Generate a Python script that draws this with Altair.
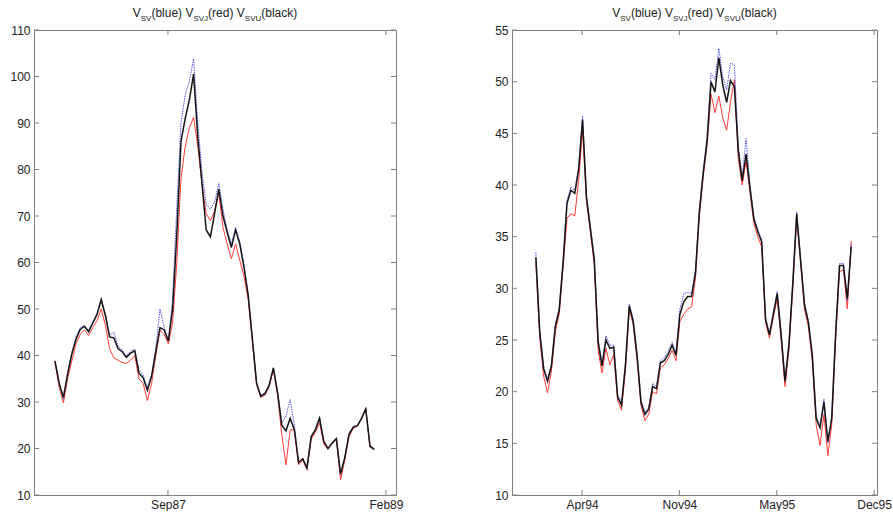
import altair as alt
import pandas as pd

# ---------------- data ----------------
left_start = "1986-12-06"
left_step = "10D"
left_black = [38.8, 34.0, 31.0, 36.0, 40.3, 43.5, 45.6, 46.3, 45.1, 47.0,
              48.8, 52.0, 48.6, 44.0, 43.8, 41.5, 40.8, 39.6, 40.5, 41.0,
              36.2, 35.2, 32.5, 35.5, 40.8, 46.0, 45.5, 43.1, 50.0, 66.0,
              86.0, 91.0, 95.0, 100.5, 87.0, 77.0, 67.0, 65.5, 70.5, 75.8,
              70.0, 66.5, 63.2, 67.0, 64.0, 59.0, 53.0, 43.5, 34.0, 31.2,
              31.8, 33.6, 37.3, 32.0, 25.0, 23.8, 26.5, 24.0, 17.0, 17.8,
              15.8, 22.5, 24.0, 26.5, 21.5, 20.0, 21.2, 22.1, 14.5, 18.0,
              23.0, 24.6, 24.9, 26.5, 28.5, 20.5, 19.8]
left_blue = [38.9, 34.2, 30.6, 36.2, 40.6, 44.0, 46.0, 46.4, 45.4, 47.3,
             49.0, 52.2, 48.9, 44.3, 45.0, 42.0, 41.2, 39.9, 41.0, 41.3,
             36.8, 35.8, 33.0, 36.0, 41.5, 50.0, 46.0, 43.3, 52.0, 72.0,
             90.0, 96.0, 99.0, 103.8, 90.0, 79.5, 72.5, 71.5, 73.0, 77.0,
             71.5, 67.0, 64.0, 67.5, 64.5, 59.5, 53.0, 43.8, 34.3, 31.5,
             32.0, 33.8, 37.5, 32.2, 25.5, 27.0, 30.5, 25.0, 17.0, 17.8,
             15.8, 22.6, 24.3, 26.8, 21.6, 20.0, 21.3, 22.2, 14.6, 18.2,
             23.2, 24.7, 25.0, 26.6, 28.7, 20.6, 20.0]
left_red = [38.5, 33.2, 29.8, 35.0, 38.8, 42.5, 44.5, 45.5, 44.3, 46.0,
            47.5, 50.0, 46.5, 41.5, 39.5, 39.0, 38.5, 38.3, 39.0, 40.0,
            35.0, 34.0, 30.3, 34.0, 40.0, 45.5, 44.5, 42.5, 47.0, 60.0,
            78.0, 85.0, 89.0, 91.2, 85.0, 77.0, 70.5, 69.0, 71.0, 75.0,
            67.5, 64.0, 60.8, 64.0, 60.5, 57.0, 52.0, 43.0, 33.8, 31.0,
            31.5, 33.3, 37.0, 31.5, 23.0, 16.5, 24.0, 24.0, 16.5, 17.5,
            15.5, 22.0, 23.5, 25.5, 21.0, 19.8, 21.0, 22.0, 13.3, 17.5,
            22.5, 24.3, 24.8, 26.3, 28.5, 20.3, 19.8]

right_start = "1994-01-15"
right_step = "8D"
right_black = [33.0, 25.8, 22.2, 21.0, 22.5, 26.3, 27.9, 32.5, 38.2, 39.5,
               39.2, 41.5, 46.3, 38.8, 35.8, 32.8, 24.8, 22.5, 25.0, 24.2,
               24.3, 19.5, 18.7, 22.5, 28.3, 26.8, 23.5, 19.0, 17.8, 18.3,
               20.5, 20.3, 22.8, 23.0, 23.6, 24.5, 23.5, 27.5, 28.7, 29.2,
               29.2, 31.5, 37.4, 41.2, 44.3, 50.0, 49.0, 52.3, 49.7, 48.0,
               50.1, 49.5, 43.3, 40.4, 43.0, 39.7, 36.7, 35.5, 34.5, 27.0,
               25.5, 27.5, 29.5, 25.5, 21.0, 24.5, 30.5, 37.2, 32.7, 28.4,
               26.7, 23.5, 17.4, 16.5, 19.0, 15.2, 17.4, 25.6, 32.2, 32.2,
               29.0, 34.0]
right_blue = [33.5, 26.0, 22.4, 21.2, 22.7, 26.5, 28.1, 32.7, 38.5, 39.8,
              39.5, 41.8, 46.7, 39.0, 36.0, 33.0, 25.0, 22.8, 25.4, 24.5,
              24.5, 19.8, 18.9, 22.7, 28.5, 27.0, 23.7, 19.2, 18.0, 18.5,
              20.8, 20.5, 23.0, 23.3, 23.9, 24.8, 23.8, 28.0, 29.5, 29.6,
              29.5, 31.8, 37.6, 41.4, 44.8, 50.8, 50.2, 53.2, 50.5, 49.2,
              51.8, 51.6, 43.8, 40.8, 44.5, 40.0, 36.9, 35.7, 34.7, 27.2,
              25.6, 27.7, 29.7, 25.7, 21.2, 24.7, 30.7, 37.4, 32.9, 28.6,
              26.9, 23.8, 17.6, 16.7, 19.3, 15.0, 17.6, 25.8, 32.4, 32.4,
              28.8, 34.3]
right_red = [32.5, 25.2, 21.5, 19.9, 22.0, 25.8, 27.5, 32.0, 36.8, 37.2,
             37.0, 40.5, 45.3, 38.4, 35.5, 32.3, 24.0, 21.8, 24.2, 22.6,
             23.6, 19.2, 18.2, 22.0, 28.0, 26.5, 23.0, 18.7, 17.2, 17.8,
             20.0, 19.8, 22.3, 22.6, 23.2, 24.0, 23.0, 26.8, 27.5, 28.0,
             28.2, 31.0, 37.0, 40.8, 44.0, 48.8, 47.0, 48.6, 46.5, 45.3,
             48.0, 50.2, 42.5, 40.0, 42.3, 39.3, 36.3, 35.0, 34.0, 26.7,
             25.2, 27.2, 29.0, 25.0, 20.5, 24.0, 30.0, 36.8, 32.5, 28.0,
             26.3, 23.0, 16.8, 14.8, 17.8, 13.8, 16.8, 25.0, 31.6, 31.8,
             28.0, 34.6]

left_xdomain = ["1986-10-17", "1989-02-25"]
left_xticks = ["1987-09-01", "1989-02-01"]
left_yticks = [10, 20, 30, 40, 50, 60, 70, 80, 90, 100, 110]

right_xdomain = ["1993-11-27", "1995-12-17"]
right_xticks = ["1994-04-20", "1994-11-06", "1995-05-25", "1995-12-11"]
right_yticks = [10, 15, 20, 25, 30, 35, 40, 45, 50, 55]

title_parts = [("V", False), ("SV", True), ("(blue) ", False),
               ("V", False), ("SVJ", True), ("(red) ", False),
               ("V", False), ("SVU", True), ("(black)", False)]

# ---------------- styling ----------------
FONT = "Liberation Sans"
TXT = "#222222"
FRAME = "#808080"
STYLES = [("red", "#ff3b3b", 1.0, None),
          ("blue", "#4040d8", 0.9, [1.5, 1]),
          ("black", "#151515", 1.5, None)]

# Arial / Liberation Sans advance widths (per 1000 em)
AW = {"V": 667, "S": 667, "J": 500, "U": 722, "(": 333, ")": 333, "b": 556,
      "l": 222, "u": 556, "e": 556, " ": 278, "r": 333, "d": 556, "a": 556,
      "c": 500, "k": 500}
MAIN_FS, SUB_FS = 12, 8


def dt(s):
    t = pd.Timestamp(s)
    return alt.DateTime(year=t.year, month=t.month, date=t.day, utc=True)


def panel(start, step, black, blue, red, xdomain, xticks, ydomain, yticks, W, H):
    dates = pd.date_range(start, periods=len(black), freq=step).strftime("%Y-%m-%d")
    vals = {"black": black, "blue": blue, "red": red}

    xscale = alt.Scale(domain=[dt(xdomain[0]), dt(xdomain[1])])
    yscale = alt.Scale(domain=ydomain, nice=False, zero=False)
    xaxis = alt.Axis(values=[dt(v) for v in xticks], format="%b%y", title=None,
                     ticks=False, domain=False, grid=False, labelFont=FONT,
                     labelFontSize=12, labelColor=TXT, labelPadding=4,
                     labelOverlap=False, labelFlush=False)
    yaxis = alt.Axis(values=yticks, title=None, ticks=False, domain=False,
                     grid=False, labelFont=FONT, labelFontSize=12,
                     labelColor=TXT, labelPadding=4)

    X = lambda f: alt.X(f + ":T", scale=xscale, axis=xaxis)
    Y = lambda f: alt.Y(f + ":Q", scale=yscale, axis=yaxis)

    layers = []
    for name, color, width, dash in STYLES:
        df = pd.DataFrame({"date": list(dates), "value": vals[name]})
        mk = dict(color=color, strokeWidth=width, clip=True)
        if dash:
            mk["strokeDash"] = dash
        layers.append(alt.Chart(df).mark_line(**mk).encode(x=X("date"), y=Y("value")))

    # inward tick marks on all four sides
    ydf = pd.DataFrame({"value": yticks})
    xdf = pd.DataFrame({"date": list(xticks)})
    tk = dict(color=FRAME, strokeWidth=1)
    layers.append(alt.Chart(ydf).mark_rule(**tk).encode(
        y=Y("value"), x=alt.value(0), x2=alt.value(5)))
    layers.append(alt.Chart(ydf).mark_rule(**tk).encode(
        y=Y("value"), x=alt.value(W - 5), x2=alt.value(W)))
    layers.append(alt.Chart(xdf).mark_rule(**tk).encode(
        x=X("date"), y=alt.value(0), y2=alt.value(5)))
    layers.append(alt.Chart(xdf).mark_rule(**tk).encode(
        x=X("date"), y=alt.value(H - 5), y2=alt.value(H)))

    # title with subscripts
    widths = []
    for txt, sub in title_parts:
        fs = SUB_FS if sub else MAIN_FS
        widths.append(sum(AW.get(c, 556) for c in txt) * fs / 1000.0)
    x0 = W / 2.0 - sum(widths) / 2.0
    one = pd.DataFrame({"k": [0]})
    for (txt, sub), w in zip(title_parts, widths):
        layers.append(alt.Chart(one).mark_text(
            align="left", baseline="alphabetic", font=FONT,
            fontSize=SUB_FS if sub else MAIN_FS, color=TXT,
        ).encode(x=alt.value(x0), y=alt.value(-9.5 if sub else -13),
                 text=alt.value(txt)))
        x0 += w

    return alt.layer(*layers).properties(width=W, height=H)


left = panel(left_start, left_step, left_black, left_blue, left_red,
             left_xdomain, left_xticks, [10, 110], left_yticks, 362, 465)
right = panel(right_start, right_step, right_black, right_blue, right_red,
              right_xdomain, right_xticks, [10, 55], right_yticks, 365, 465)

chart = alt.hconcat(left, right, spacing=90).properties(
    padding={"left": 9, "top": 6, "right": 0, "bottom": 0},
    background="white",
).configure_view(stroke=FRAME, strokeWidth=1)

chart.save("out.html", embed_options={"renderer": "svg", "actions": False})
